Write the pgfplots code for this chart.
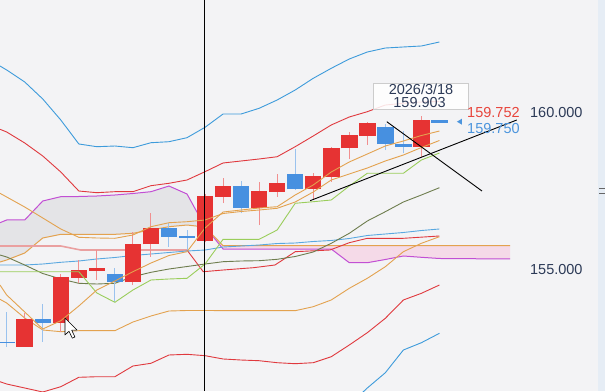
\documentclass[border=0pt]{standalone}
\usepackage{fontspec}
\setmainfont{Liberation Sans}
\usepackage{pgfplots}
\usepackage{pgfplotstable}
\pgfplotsset{compat=1.18}
\definecolor{bgc}{HTML}{F3F3F5}
\definecolor{stripc}{HTML}{E6EDF5}
\definecolor{candred}{HTML}{E63333}
\definecolor{candblue}{HTML}{4790E0}
\definecolor{bandblue}{HTML}{3D9BDB}
\definecolor{bandred}{HTML}{E0393E}
\definecolor{magc}{HTML}{C24FD4}
\definecolor{orc}{HTML}{E3A24F}
\definecolor{olivec}{HTML}{6E7D4E}
\definecolor{greenc}{HTML}{9ACD5B}
\definecolor{midblue}{HTML}{5AA8E0}
\definecolor{salmon}{HTML}{EAA0A0}
\definecolor{cloudgray}{HTML}{E4E4E7}
\definecolor{cloudpink}{HTML}{F5DAE8}
\definecolor{txtdark}{HTML}{2C3A57}
\definecolor{txtred}{HTML}{E8453C}
\definecolor{txtblue}{HTML}{4C95DD}

\pgfplotstableread{
i o h l c
1 152.51 153.59 152.51 153.40
3 153.26 154.84 152.99 154.75
4 154.72 155.29 154.54 154.97
5 154.95 155.61 154.65 155.04
7 154.57 156.20 154.49 155.79
8 155.79 156.80 155.39 156.30
11 155.91 157.40 155.85 157.34
12 157.32 157.91 157.11 157.66
14 156.97 157.78 156.41 157.50
15 157.48 158.05 157.32 157.75
17 157.56 158.07 157.21 157.98
18 157.96 158.92 157.80 158.87
19 158.87 159.40 158.52 159.30
20 159.27 159.70 158.98 159.69
23 158.92 159.90 158.60 159.78
}\redc
\pgfplotstableread{
i o h l c
0 152.67 153.63 152.51 152.62
2 153.39 153.87 152.67 153.26
6 154.84 155.03 153.95 154.57
9 156.30 156.48 155.72 156.04
10 156.06 156.25 155.61 155.99
13 157.66 157.83 156.79 156.97
16 158.05 158.84 157.53 157.56
21 159.54 159.65 158.81 159.00
22 159.01 159.43 158.71 158.92
24 159.76 159.76 159.69 159.69
}\bluec

\pgfplotsset{candle/.style={draw=none, mark=none, forget plot, error bars/.cd, y dir=plus, y explicit, error mark=none}}

\begin{document}
\begin{tikzpicture}
\begin{axis}[name=ax, width=605pt, height=391pt, scale only axis,
  xmin=-0.372, xmax=33.183, ymin=151.09, ymax=163.622,
  axis lines=none, ticks=none, clip=true]
\fill[bgc] (rel axis cs:0,0) rectangle (rel axis cs:1,1);
\fill[stripc] (axis cs:32.8,151.09) rectangle (axis cs:33.183,163.622);
\draw[gray!80!black, line width=0.9pt] (axis cs:32.87,157.58) -- (axis cs:33.183,157.58);
\draw[gray!80!black, line width=0.9pt] (axis cs:32.87,157.42) -- (axis cs:33.183,157.42);

% gray cloud
\addplot[fill=cloudgray, draw=none, forget plot] coordinates {
(-0.372,156.484)(0,156.571)(1,156.571)(2,157.180)(3,157.318)(4,157.324)(5,157.340)(6,157.372)(7,157.420)(8,157.478)(9,157.660)(10,157.404)(11,156.356)
(10,156.410)(9,156.356)(8,156.250)(7,156.144)(6,156.112)(5,156.112)(4,156.112)(3,156.112)(2,155.994)(1,155.513)(0,155.289)(-0.372,155.224)} -- cycle;
% pink cloud
\addplot[fill=cloudpink, draw=none, forget plot] coordinates {
(11.4,156.0)(12,155.747)(27.915,155.747)(27.915,155.321)(24,155.337)(23,155.375)(22,155.417)(21,155.305)(20,155.202)(19,155.202)(18,155.641)(12,155.641)} -- cycle;

% bands
\addplot[bandblue, line width=0.9pt] coordinates {(-0.372,161.507)(0,161.378)(1,160.994)(2,160.449)(3,159.776)(4,159.007)(5,158.920)(6,158.942)(7,158.888)(8,159.048)(9,159.080)(10,159.209)(11,159.542)(12,159.968)(13,159.968)(14,160.151)(15,160.417)(16,160.737)(17,161.112)(18,161.433)(19,161.731)(20,161.955)(21,162.083)(22,162.116)(23,162.148)(24,162.276)};
\addplot[bandred, line width=0.9pt] coordinates {(-0.372,159.478)(0,159.391)(1,159.039)(2,158.622)(3,158.109)(4,157.500)(5,157.446)(6,157.478)(7,157.478)(8,157.670)(9,157.747)(10,157.853)(11,158.119)(12,158.398)(13,158.462)(14,158.526)(15,158.599)(16,158.920)(17,159.263)(18,159.616)(19,159.872)(20,160.042)(21,160.256)(22,160.311)(23,160.353)(24,160.369)};
\addplot[bandred, line width=0.9pt] coordinates {(-0.372,151.388)(0,151.314)(1,151.186)(2,151.058)(3,151.228)(4,151.529)(5,151.548)(6,151.548)(7,151.891)(8,151.978)(9,152.244)(10,152.266)(11,152.222)(12,152.116)(13,152.083)(14,152.061)(15,151.997)(16,151.965)(17,151.997)(18,152.189)(19,152.564)(20,152.959)(21,153.420)(22,154.007)(23,154.221)(24,154.487)};
\addplot[bandblue, line width=0.9pt] coordinates {(18,150.160)(19,150.641)(20,151.186)(21,151.676)(22,152.404)(23,152.638)(24,152.939)};

% cloud spans
\addplot[magc, line width=1pt] coordinates {(-0.372,156.484)(0,156.571)(1,156.571)(2,157.180)(3,157.318)(4,157.324)(5,157.340)(6,157.372)(7,157.420)(8,157.478)(9,157.660)(10,157.404)(11,156.356)(12,155.641)(13,155.641)(14,155.641)(15,155.641)(16,155.641)(17,155.641)(18,155.641)(19,155.202)(20,155.202)(21,155.305)(22,155.417)(23,155.375)(24,155.337)(27.915,155.321)};
\addplot[orc, line width=1pt] coordinates {(-0.372,155.224)(0,155.289)(1,155.513)(2,155.994)(3,156.112)(4,156.112)(5,156.112)(6,156.112)(7,156.144)(8,156.250)(9,156.356)(10,156.410)(11,156.346)(12,155.747)(27.915,155.747)};

% other lines
\addplot[salmon, line width=1.6pt] coordinates {(-0.372,155.737)(3,155.737)(4.1,155.609)(10,155.609)};
\addplot[bandred, line width=0.9pt] coordinates {(10,155.609)(10.9,154.913)(12,154.968)(13.68,155.042)(14.88,155.128)(16,155.555)(17.93,155.609)(19,155.843)(20,155.984)(22,155.984)(24,156.058)};
\addplot[midblue, line width=0.9pt] coordinates {(-0.372,155.128)(0,155.128)(1,155.128)(2,155.160)(3,155.215)(4,155.257)(5,155.321)(6,155.369)(7,155.433)(8,155.481)(9,155.529)(10,155.577)(11,155.609)(12,155.705)(13,155.737)(14,155.769)(15,155.817)(16,155.833)(17,155.882)(18,155.914)(19,155.978)(20,156.074)(21,156.122)(22,156.170)(23,156.234)(24,156.282)};
\addplot[olivec, line width=0.9pt] coordinates {(-0.372,155.449)(0,155.385)(1,155.128)(2,154.856)(3,154.680)(4,154.542)(5,154.519)(6,154.542)(7,154.753)(8,154.894)(9,155.000)(10,155.080)(11,155.160)(12,155.234)(13,155.257)(14,155.266)(15,155.311)(16,155.401)(17,155.545)(18,155.824)(19,156.144)(20,156.539)(21,156.837)(22,157.148)(23,157.372)(24,157.606)};
\addplot[orc, line width=0.9pt] coordinates {(-0.372,154.029)(0,153.910)(1,153.430)(2,153.045)(3,152.991)(4,153.023)(5,153.023)(6,153.023)(7,153.301)(8,153.494)(9,153.654)(10,153.670)(16,153.664)(17,153.792)(18,154.007)(19,154.381)(20,154.702)(21,155.074)(22,155.555)(23,155.824)(24,156.035)};

% candles: wicks then bodies
\addplot[candle, error bar style={line width=1pt, draw=candred!55}] table[x=i, y=l, y error expr=\thisrow{h}-\thisrow{l}] {\redc};
\addplot[candle, error bar style={line width=1pt, draw=candblue!55}] table[x=i, y=l, y error expr=\thisrow{h}-\thisrow{l}] {\bluec};
\addplot[candle, error bar style={line width=16.5pt, draw=candred}] table[x=i, y expr={min(\thisrow{o},\thisrow{c})}, y error expr={abs(\thisrow{c}-\thisrow{o})}] {\redc};
\addplot[candle, error bar style={line width=16.5pt, draw=candblue}] table[x=i, y expr={min(\thisrow{o},\thisrow{c})}, y error expr={abs(\thisrow{c}-\thisrow{o})}] {\bluec};

% fast lines over candles
\addplot[greenc, line width=0.9pt] coordinates {(-0.372,154.913)(4,154.913)(5,154.231)(6,153.933)(7,154.327)(8,154.648)(9,154.680)(10,154.702)(11,155.160)(12,155.952)(13,155.952)(14,155.952)(15,156.250)(16,157.106)(17,157.157)(18,157.212)(19,157.660)(20,158.068)(21,158.068)(22,158.068)(23,158.494)(24,158.718)};
\addplot[orc, line width=0.9pt] coordinates {(-0.372,154.487)(0,154.167)(1,153.622)(2,153.077)(3,153.343)(4,153.814)(5,154.327)(6,154.616)(7,154.913)(8,155.192)(9,155.433)(10,155.555)(11,156.314)(12,156.827)(13,156.891)(14,156.955)(15,156.997)(16,157.372)(17,157.693)(18,158.109)(19,158.430)(20,158.686)(21,158.943)(22,159.103)(23,159.279)(24,159.423)};
\addplot[orc, line width=0.9pt] coordinates {(-0.372,157.426)(0,157.308)(1,156.987)(2,156.635)(3,156.282)(4,156.016)(5,155.994)(6,155.984)(7,156.090)(8,156.356)(9,156.484)(10,156.516)(11,156.571)(12,156.779)(13,156.843)(14,156.891)(15,156.946)(16,157.148)(17,157.468)(18,157.853)(19,158.045)(20,158.237)(21,158.462)(22,158.654)(23,158.894)(24,159.119)};

% trend lines and cursor line
\addplot[black, line width=0.9pt] coordinates {(16.83,157.190)(28.29,159.776)};
\addplot[black, line width=0.9pt] coordinates {(21.08,159.721)(26.36,157.500)};
\addplot[black, line width=0.9pt] coordinates {(10.94,151.09)(10.94,163.622)};

% labels
\draw[draw=gray!40, fill=white, fill opacity=0.85] (axis cs:20.33,160.952) rectangle (axis cs:25.60,160.119);
\node[text=txtdark, font=\fontsize{14.5}{15}\selectfont, inner sep=0pt] at (axis cs:22.98,160.757) {2026/3/18};
\node[text=txtdark, font=\fontsize{14.5}{15}\selectfont, inner sep=0pt] at (axis cs:22.90,160.330) {159.903};
\node[text=txtred, font=\fontsize{14.5}{15}\selectfont, inner sep=0pt, anchor=west] at (axis cs:25.53,160.01) {159.752};
\node[text=txtdark, font=\fontsize{14.5}{15}\selectfont, inner sep=0pt, anchor=west] at (axis cs:29.02,160.01) {160.000};
\node[text=txtblue, font=\fontsize{14.5}{15}\selectfont, inner sep=0pt, anchor=west] at (axis cs:25.53,159.51) {159.750};
\node[text=txtdark, font=\fontsize{14.5}{15}\selectfont, inner sep=0pt, anchor=west] at (axis cs:29.02,154.99) {155.000};
\fill[txtblue] (axis cs:24.97,159.721) -- (axis cs:25.25,159.817) -- (axis cs:25.25,159.625) -- cycle;
% mouse cursor
\draw[black, fill=white, line width=0.6pt, line join=round] (axis cs:3.234,153.43) -- ++(0pt,-17pt) -- ++(4pt,3.8pt) -- ++(3.3pt,-7pt) -- ++(2.6pt,1.2pt) -- ++(-3.2pt,6.8pt) -- ++(5.4pt,0pt) -- cycle;
\end{axis}
\pgfresetboundingbox
\useasboundingbox (ax.south west) rectangle (ax.north east);
\end{tikzpicture}
\end{document}
